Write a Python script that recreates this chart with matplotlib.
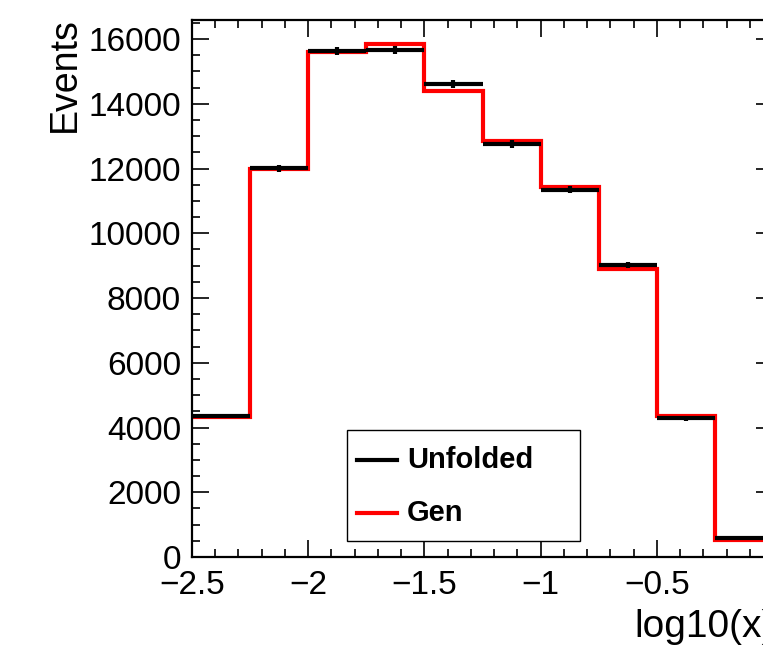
import matplotlib
matplotlib.use("Agg")
import matplotlib.pyplot as plt
from matplotlib.ticker import MultipleLocator
from matplotlib.patches import Rectangle
from matplotlib.lines import Line2D
import numpy as np

plt.rcParams['font.family'] = ['Liberation Sans', 'DejaVu Sans']

bin_edges = [-2.5, -2.25, -2.0, -1.75, -1.5, -1.25, -1.0, -0.75, -0.5, -0.25, 0.0]
unfolded = [4355, 12010, 15620, 15650, 14610, 12760, 11350, 9020, 4280, 575]
unfolded_err = [66, 110, 125, 125, 121, 113, 107, 95, 65, 24]
gen = [4330, 12000, 15600, 15840, 14400, 12860, 11420, 8895, 4365, 525]
legend_labels = ["Unfolded", "Gen"]
x_ticks = [-2.5, -2.0, -1.5, -1.0, -0.5, 0.0]
x_tick_labels = ["\u22122.5", "\u22122", "\u22121.5", "\u22121", "\u22120.5", ""]

W, H = 763, 650
fig = plt.figure(figsize=(W / 100, H / 100), dpi=100)
ax = fig.add_axes([192 / W, 1 - 557 / H, (773 - 192) / W, (557 - 20) / H])

edges = np.array(bin_edges)
centers = 0.5 * (edges[:-1] + edges[1:])

# Gen histogram (step outline)
ax.stairs(gen, edges, color='red', linewidth=3, baseline=None, zorder=2)

# Unfolded: horizontal bars + vertical error bars
ax.hlines(unfolded, edges[:-1], edges[1:], colors='black', linewidth=3, zorder=3)
ax.vlines(centers, np.array(unfolded) - np.array(unfolded_err),
          np.array(unfolded) + np.array(unfolded_err), colors='black', linewidth=3, zorder=3)

ax.set_xlim(-2.5, 0.0)
ax.set_ylim(0, 16590)

ax.set_xticks(x_ticks)
ax.set_xticklabels(x_tick_labels)
ax.xaxis.set_minor_locator(MultipleLocator(0.1))
ax.yaxis.set_major_locator(MultipleLocator(2000))
ax.yaxis.set_minor_locator(MultipleLocator(500))

ax.tick_params(which='both', direction='in', top=True, right=True, width=1.2, colors='black')
ax.tick_params(which='major', length=12, labelsize=24)
ax.tick_params(which='minor', length=6)
ax.tick_params(axis='x', which='major', pad=9)
ax.tick_params(axis='y', which='major', pad=8)

for s in ax.spines.values():
    s.set_linewidth(1.6)

# Axis titles
fig.text(65 / W, 1 - 17 / H, "Events", rotation=90, ha='center', va='top', fontsize=27)
fig.text(634 / W, 1 - 637 / H, "log10(x)", ha='left', va='baseline', fontsize=28)

# Legend (manual)
fig.patches.append(Rectangle((347 / W, 1 - 541 / H), (580 - 347) / W, (541 - 430) / H,
                             transform=fig.transFigure, facecolor='white',
                             edgecolor='black', linewidth=1.0, zorder=5))
for yy, col, lab in [(460, 'black', legend_labels[0]), (513, 'red', legend_labels[1])]:
    fig.lines.append(Line2D([357 / W, 397 / W], [1 - yy / H, 1 - yy / H],
                            transform=fig.transFigure, color=col, linewidth=3, zorder=6))
    fig.text(407 / W, 1 - yy / H, lab, ha='left', va='center', fontsize=21,
             fontweight='bold', zorder=6)

fig.savefig("out.png", dpi=100)
